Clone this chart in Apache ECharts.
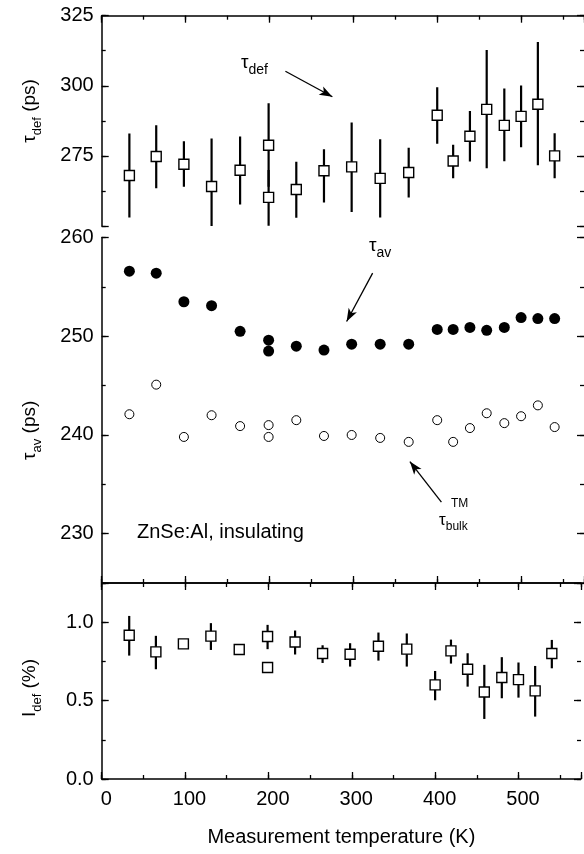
<!DOCTYPE html>
<html><head><meta charset="utf-8">
<script src="https://cdn.jsdelivr.net/npm/echarts@6/dist/echarts.min.js"></script>
<style>html,body{margin:0;padding:0;background:#fff}#c{width:584px;height:854px}</style>
</head><body><div id="c"></div>
<script>
// Measurement temperatures (K)
const temps = [33, 65, 98, 131, 165, 199, 199, 232, 265, 298, 332, 366, 400, 419, 439, 459, 480, 500, 520, 540];
// tau_def (ps) with error bar ends
const tauDef   = [268.0, 274.8, 272.0, 264.1, 269.9, 278.8, 260.2, 263.0, 269.7, 271.1, 267.0, 269.1, 289.5, 273.2, 282.0, 291.6, 285.9, 289.1, 293.4, 275.0];
const tauDefLo = [253.0, 263.5, 264.0, 249.9, 257.7, 264.0, 250.1, 252.9, 258.4, 255.0, 253.0, 260.2, 279.3, 267.0, 273.0, 270.6, 273.1, 278.1, 271.7, 267.0];
const tauDefHi = [283.0, 285.9, 280.2, 281.2, 281.9, 293.8, 270.0, 272.9, 277.4, 286.9, 280.9, 277.9, 299.5, 279.0, 291.0, 312.8, 299.0, 300.1, 315.6, 283.1];
// tau_av (ps), filled circles
const tauAv   = [256.6, 256.4, 253.5, 253.1, 250.5, 249.6, 248.5, 249.0, 248.6, 249.2, 249.2, 249.2, 250.7, 250.7, 250.9, 250.6, 250.9, 251.9, 251.8, 251.8];
// tau_bulk^TM (ps), open circles
const tauBulk = [242.1, 245.1, 239.8, 242.0, 240.9, 241.0, 239.8, 241.5, 239.9, 240.0, 239.7, 239.3, 241.5, 239.3, 240.7, 242.2, 241.2, 241.9, 243.0, 240.8];
// I_def (%) with error bar ends
const iDef   = [0.917, 0.811, 0.862, 0.911, 0.826, 0.909, 0.711, 0.874, 0.800, 0.796, 0.847, 0.828, 0.600, 0.817, 0.700, 0.555, 0.647, 0.634, 0.562, 0.800];
const iDefLo = [0.787, 0.700, null, 0.823, null, 0.828, null, 0.794, 0.740, 0.717, 0.755, 0.717, 0.502, 0.736, 0.589, 0.383, 0.515, 0.519, 0.398, 0.706];
const iDefHi = [1.040, 0.913, null, 0.994, null, 0.983, null, 0.947, 0.853, 0.866, 0.934, 0.928, 0.689, 0.889, 0.802, 0.728, 0.777, 0.743, 0.721, 0.887];
// tick labels
const xTickLabels = [0, 100, 200, 300, 400, 500];
const yTopLabels = [275, 300, 325];
const yMidLabels = [230, 240, 250, 260];
const yBotLabels = [0.0, 0.5, 1.0];

const FONT = '"Liberation Sans", Arial, Helvetica, sans-serif';
const chart = echarts.init(document.getElementById('c'), null, {renderer: 'canvas'});

const L = 101.7, W = 483.8; // x: 0..575 K
const XMAX = 575;
const grids = [
  {left: L, width: W, top: 15.7, height: 210.3},
  {left: L, width: W, top: 237.6, height: 345.4},
  {left: L, width: W, top: 583, height: 196}
];
const lineStyle = {color: '#000', width: 1.5};
const tickStyle = {color: '#000', width: 1.3};

function xAx(g, pos, interval, len, showLine, extra) {
  return Object.assign({
    type: 'value', gridIndex: g, position: pos, min: 0, max: XMAX, interval: interval,
    axisLine: {show: showLine, onZero: false, lineStyle: lineStyle},
    axisTick: {show: true, inside: true, length: len, lineStyle: tickStyle},
    axisLabel: {show: false}, splitLine: {show: false}
  }, extra || {});
}
function yAx(g, pos, min, max, interval, len, showLine, extra) {
  return Object.assign({
    type: 'value', gridIndex: g, position: pos, min: min, max: max, interval: interval,
    axisLine: {show: showLine, onZero: false, lineStyle: lineStyle},
    axisTick: {show: true, inside: true, length: len, lineStyle: tickStyle},
    axisLabel: {show: false}, splitLine: {show: false}
  }, extra || {});
}
const labelStyle = {show: true, fontFamily: FONT, fontSize: 20, color: '#000', margin: 8};
const nameRich = {
  t: {fontFamily: FONT, fontSize: 19, color: '#000', verticalAlign: 'bottom', padding: [0, 0, 4, 0]},
  s: {fontFamily: FONT, fontSize: 13, color: '#000', verticalAlign: 'bottom'}
};

const xAxis = [
  xAx(0, 'top', 100, 7, true),
  xAx(0, 'top', 50, 4, false),
  xAx(1, 'bottom', 100, 7, true),
  xAx(1, 'bottom', 50, 4, false),
  xAx(2, 'top', 100, 7, true),
  xAx(2, 'top', 50, 4, false),
  xAx(2, 'bottom', 100, 7, true, {
    axisLabel: Object.assign({}, labelStyle, {margin: 10, padding: [0, 0, 0, 9],
      formatter: v => xTickLabels.indexOf(v) >= 0 ? String(v) : ''}),
    name: 'Measurement temperature (K)', nameLocation: 'middle', nameGap: 48,
    nameTextStyle: {fontFamily: FONT, fontSize: 20, color: '#000'}
  }),
  xAx(2, 'bottom', 50, 4, false)
];

const yAxis = [
  yAx(0, 'left', 250, 325, 25, 7, true, {
    axisLabel: Object.assign({}, labelStyle, {formatter: v => yTopLabels.indexOf(v) >= 0 ? String(v) : ''}),
    name: '{t|τ}{s|def}{t| (ps)}', nameLocation: 'middle', nameGap: 58,
    nameTextStyle: {rich: nameRich, padding: [0, 0, 0, 20]}
  }),
  yAx(0, 'left', 250, 325, 12.5, 4, false),
  yAx(0, 'right', 250, 325, 25, 7, false),
  yAx(0, 'right', 250, 325, 12.5, 4, false),
  yAx(1, 'left', 225, 260, 5, 7, true, {
    axisTick: {show: true, inside: true, length: 7, lineStyle: tickStyle, customValues: yMidLabels},
    axisLabel: Object.assign({}, labelStyle, {customValues: yMidLabels,
      formatter: v => yMidLabels.indexOf(v) >= 0 ? String(v) : ''}),
    name: '{t|τ}{s|av}{t| (ps)}', nameLocation: 'middle', nameGap: 58,
    nameTextStyle: {rich: nameRich, padding: [0, 40, 0, 0]}
  }),
  yAx(1, 'left', 225, 260, 5, 4, false),
  yAx(1, 'right', 225, 260, 5, 7, false, {
    axisTick: {show: true, inside: true, length: 7, lineStyle: tickStyle, customValues: yMidLabels}
  }),
  yAx(1, 'right', 225, 260, 5, 4, false),
  yAx(2, 'left', 0, 1.25, 0.5, 7, true, {
    axisLabel: Object.assign({}, labelStyle, {formatter: v => yBotLabels.indexOf(v) >= 0 ? v.toFixed(1) : ''}),
    name: '{t|I}{s|def}{t| (%)}', nameLocation: 'middle', nameGap: 58,
    nameTextStyle: {rich: nameRich, padding: [0, 14, 0, 0]}
  }),
  yAx(2, 'left', 0, 1.25, 0.25, 4, false),
  yAx(2, 'right', 0, 1.25, 0.5, 7, false),
  yAx(2, 'right', 0, 1.25, 0.25, 4, false)
];

function errSeries(xi, yi, lo, hi) {
  const data = [];
  temps.forEach((t, i) => { if (lo[i] != null && hi[i] != null) data.push([t, lo[i], hi[i]]); });
  return {
    type: 'custom', xAxisIndex: xi, yAxisIndex: yi, data: data, z: 1, silent: true,
    clip: true,
    renderItem: function (params, api) {
      const x = api.value(0);
      const p1 = api.coord([x, api.value(1)]);
      const p2 = api.coord([x, api.value(2)]);
      return {type: 'line', shape: {x1: p1[0], y1: p1[1], x2: p2[0], y2: p2[1]},
        style: {stroke: '#000', lineWidth: 2.2}};
    }
  };
}
function pairs(vals) { return temps.map((t, i) => [t, vals[i]]); }
function arrow(from, to) {
  return [{coord: from, symbol: 'none'}, {coord: to, symbol: 'arrow', symbolSize: [7, 13]}];
}
const markLineBase = {
  silent: true, animation: false, label: {show: false},
  lineStyle: {color: '#000', width: 1.3, type: 'solid', opacity: 1},
  emphasis: {disabled: true}
};

const series = [
  errSeries(0, 0, tauDefLo, tauDefHi),
  {
    type: 'scatter', xAxisIndex: 0, yAxisIndex: 0, data: pairs(tauDef), z: 3,
    symbol: 'rect', symbolSize: 10,
    itemStyle: {color: '#fff', borderColor: '#000', borderWidth: 1.4, opacity: 1},
    markLine: Object.assign({}, markLineBase, {data: [arrow([219, 305.2], [275, 296.1])]})
  },
  {
    type: 'scatter', xAxisIndex: 2, yAxisIndex: 4, data: pairs(tauAv), z: 3,
    symbol: 'circle', symbolSize: 11,
    itemStyle: {color: '#000', opacity: 1},
    markLine: Object.assign({}, markLineBase, {data: [arrow([323, 256.4], [292, 251.5])]})
  },
  {
    type: 'scatter', xAxisIndex: 2, yAxisIndex: 4, data: pairs(tauBulk), z: 3,
    symbol: 'circle', symbolSize: 9,
    itemStyle: {color: '#fff', borderColor: '#000', borderWidth: 1, opacity: 1},
    markLine: Object.assign({}, markLineBase, {data: [arrow([405, 233.2], [367.4, 237.3])]})
  },
  errSeries(6, 8, iDefLo, iDefHi),
  {
    type: 'scatter', xAxisIndex: 6, yAxisIndex: 8, data: pairs(iDef), z: 3,
    symbol: 'rect', symbolSize: 10,
    itemStyle: {color: '#fff', borderColor: '#000', borderWidth: 1.4, opacity: 1}
  }
];

const annRich = {
  t: {fontFamily: FONT, fontSize: 19, fill: '#000', verticalAlign: 'bottom', padding: [0, 0, 5, 0]},
  s: {fontFamily: FONT, fontSize: 14, fill: '#000', verticalAlign: 'bottom'}
};
const graphic = [
  {type: 'text', left: 241, top: 53, style: {text: '{t|τ}{s|def}', rich: annRich}},
  {type: 'text', left: 369, top: 236, style: {text: '{t|τ}{s|av}', rich: annRich}},
  {type: 'text', left: 451, top: 498, style: {text: 'TM', fontFamily: FONT, fontSize: 12, fill: '#000'}},
  {type: 'text', left: 439, top: 512, style: {text: '{t|τ}{s|bulk}', rich: {
    t: {fontFamily: FONT, fontSize: 17, fill: '#000', verticalAlign: 'bottom', padding: [0, 0, 4, 0]},
    s: {fontFamily: FONT, fontSize: 12, fill: '#000', verticalAlign: 'bottom'}}}},
  {type: 'text', left: 137, top: 522, style: {text: 'ZnSe:Al, insulating', fontFamily: FONT, fontSize: 20, fill: '#000'}}
];

chart.setOption({
  animation: false,
  backgroundColor: '#fff',
  grid: grids,
  xAxis: xAxis,
  yAxis: yAxis,
  series: series,
  graphic: graphic
});
</script>
</body></html>
